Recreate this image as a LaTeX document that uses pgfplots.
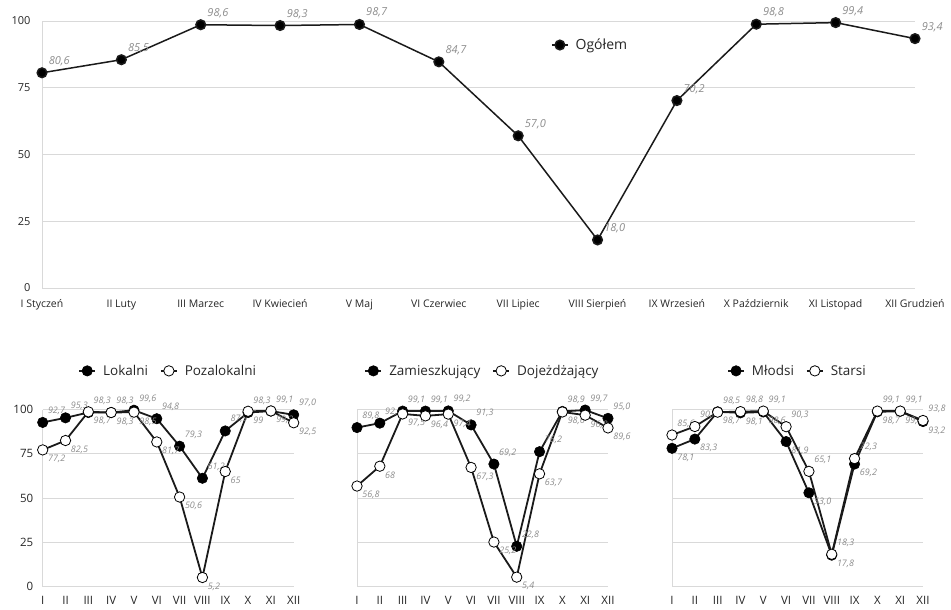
\documentclass[border=0pt]{standalone}
\usepackage{fontspec}
\setmainfont{Open Sans}
\usepackage{pgfplots}
\usepackage{pgfplotstable}
\pgfplotsset{compat=1.18}
\definecolor{gridc}{HTML}{D9D9D9}
\definecolor{labc}{HTML}{8C8C8C}
\definecolor{txtc}{HTML}{262626}
\definecolor{linec}{HTML}{1A1A1A}

\pgfplotstableread{
x y lab
0 80.6 80,6
1 85.5 85,5
2 98.6 98,6
3 98.3 98,3
4 98.7 98,7
5 84.7 84,7
6 57.0 57,0
7 18.0 18,0
8 70.2 70,2
9 98.8 98,8
10 99.4 99,4
11 93.4 93,4
}\ogolem

\pgfplotstableread{
x y lab
0 92.7 92,7
1 95.3 95,3
2 98.3 98,3
3 98.3 98,3
4 99.6 99,6
5 94.8 94,8
6 79.3 79,3
7 61.2 61,2
8 87.9 87,9
9 98.3 98,3
10 99.1 99,1
11 97.0 97,0
}\lokalni
\pgfplotstableread{
x y lab
0 77.2 77,2
1 82.5 82,5
2 98.7 98,7
3 98.3 98,3
4 98.5 98,5
5 81.7 81,7
6 50.6 50,6
7 5.2 5,2
8 65.0 65
9 99.0 99
10 99.2 99,2
11 92.5 92,5
}\pozalokalni

\pgfplotstableread{
x y lab
0 89.8 89,8
1 92.3 92,3
2 99.1 99,1
3 99.1 99,1
4 99.2 99,2
5 91.3 91,3
6 69.2 69,2
7 22.8 22,8
8 76.2 76,2
9 98.9 98,9
10 99.7 99,7
11 95.0 95,0
}\zamieszk
\pgfplotstableread{
x y lab
0 56.8 56,8
1 68.0 68
2 97.5 97,5
3 96.4 96,4
4 97.4 97,4
5 67.3 67,3
6 25.2 25,2
7 5.4 5,4
8 63.7 63,7
9 98.6 98,6
10 96.8 96,8
11 89.6 89,6
}\dojezdz

\pgfplotstableread{
x y lab
0 78.1 78,1
1 83.3 83,3
2 98.7 98,7
3 98.1 98,1
4 98.6 98,6
5 81.9 81,9
6 53.0 53,0
7 17.8 17,8
8 69.2 69,2
9 98.7 98,7
10 99.0 99,0
11 93.2 93,2
}\mlodsi
\pgfplotstableread{
x y lab
0 85.6 85,6
1 90.4 90,4
2 98.5 98,5
3 98.8 98,8
4 99.1 99,1
5 90.3 90,3
6 65.1 65,1
7 18.3 18,3
8 72.3 72,3
9 99.1 99,1
10 99.1 99,1
11 93.8 93,8
}\starsi

\pgfplotsset{
  base/.style={
    scale only axis, xmin=0, xmax=11, ymin=0, ymax=100, clip=false,
    axis x line*=bottom, axis y line*=left,
    axis line style={draw=gridc, line width=0.8pt, -},
    ymajorgrids, grid style={draw=gridc, line width=0.8pt},
    major tick length=0pt,
    ytick={0,25,50,75,100},
    xtick={0,...,11},
    /pgf/number format/assume math mode=true,
    tick label style={text=txtc},
    legend style={draw=none, fill=none, text=txtc, inner sep=0pt,
      /tikz/every odd column/.append style={column sep=5pt}},
    legend cell align=left,
    legend image code/.code={\draw[mark repeat=2,mark phase=2] plot coordinates {(0pt,0pt) (8pt,0pt) (16pt,0pt)};},
  },
  above lab/.style={nodes near coords, point meta=explicit symbolic,
    every node near coord/.append style={anchor=base west, xshift=5pt, yshift=9pt, inner sep=0pt,
      font=\fontsize{9}{10}\selectfont\itshape, text=labc}},
  below lab/.style={nodes near coords, point meta=explicit symbolic,
    every node near coord/.append style={anchor=north west, xshift=5pt, yshift=-5pt, inner sep=0pt,
      font=\fontsize{9}{10}\selectfont\itshape, text=labc}},
  fser/.style={linec, line width=1.8pt, mark=*, mark size=5.2pt, mark options={solid, fill=black, draw=black, line width=0.6pt}},
  oser/.style={linec, line width=1.8pt, mark=*, mark size=5.2pt, mark options={solid, fill=white, draw=black, line width=0.8pt}},
  small/.style={base, width=251pt, height=177.2pt,
    xticklabels={I,II,III,IV,V,VI,VII,VIII,IX,X,XI,XII},
    xticklabel style={font=\fontsize{11.5}{12}\selectfont, yshift=-6pt},
    yticklabel style={font=\fontsize{11.5}{12}\selectfont, xshift=-6pt},
    legend columns=2,
    legend style={at={(0.5,1.218)}, anchor=center, font=\fontsize{13.5}{15}\selectfont,
      /tikz/every even column/.append style={column sep=10pt}},
  },
}

\begin{document}
\begin{tikzpicture}
\path[use as bounding box] (0pt,0pt) rectangle (951pt,-610pt);

\begin{axis}[base, at={(42pt,-21pt)}, anchor=north west, width=873pt, height=267pt,
  xticklabels={I Styczeń, II Luty, III Marzec, IV Kwiecień, V Maj, VI Czerwiec, VII Lipiec, VIII Sierpień, IX Wrzesień, X Październik, XI Listopad, XII Grudzień},
  xticklabel style={font=\fontsize{10.5}{12}\selectfont, yshift=-8pt},
  yticklabel style={font=\fontsize{11}{12}\selectfont, xshift=-8pt},
  legend style={at={(0.583,0.91)}, anchor=west, font=\fontsize{14}{16}\selectfont},
]
\addplot[linec, line width=1.5pt, mark=*, mark size=4.8pt, mark options={solid, fill=black},
  nodes near coords, point meta=explicit symbolic,
  every node near coord/.append style={anchor=base west, xshift=6pt, yshift=8.5pt, inner sep=0pt,
    font=\fontsize{11}{12}\selectfont\itshape, text=labc}]
  table[x=x, y=y, meta=lab] {\ogolem};
\addlegendentry{Ogółem}
\end{axis}

\begin{axis}[small, at={(42.7pt,-409.5pt)}, anchor=north west]
\addplot[fser, above lab] table[x=x, y=y, meta=lab] {\lokalni};
\addlegendentry{Lokalni}
\addplot[oser, below lab] table[x=x, y=y, meta=lab] {\pozalokalni};
\addlegendentry{Pozalokalni}
\end{axis}

\begin{axis}[small, at={(357pt,-409.5pt)}, anchor=north west, yticklabels={}]
\addplot[fser, above lab] table[x=x, y=y, meta=lab] {\zamieszk};
\addlegendentry{Zamieszkujący}
\addplot[oser, below lab] table[x=x, y=y, meta=lab] {\dojezdz};
\addlegendentry{Dojeżdżający}
\end{axis}

\begin{axis}[small, at={(672pt,-409.5pt)}, anchor=north west, yticklabels={}]
\addplot[fser, below lab] table[x=x, y=y, meta=lab] {\mlodsi};
\addlegendentry{Młodsi}
\addplot[oser, above lab] table[x=x, y=y, meta=lab] {\starsi};
\addlegendentry{Starsi}
\end{axis}
\end{tikzpicture}
\end{document}
